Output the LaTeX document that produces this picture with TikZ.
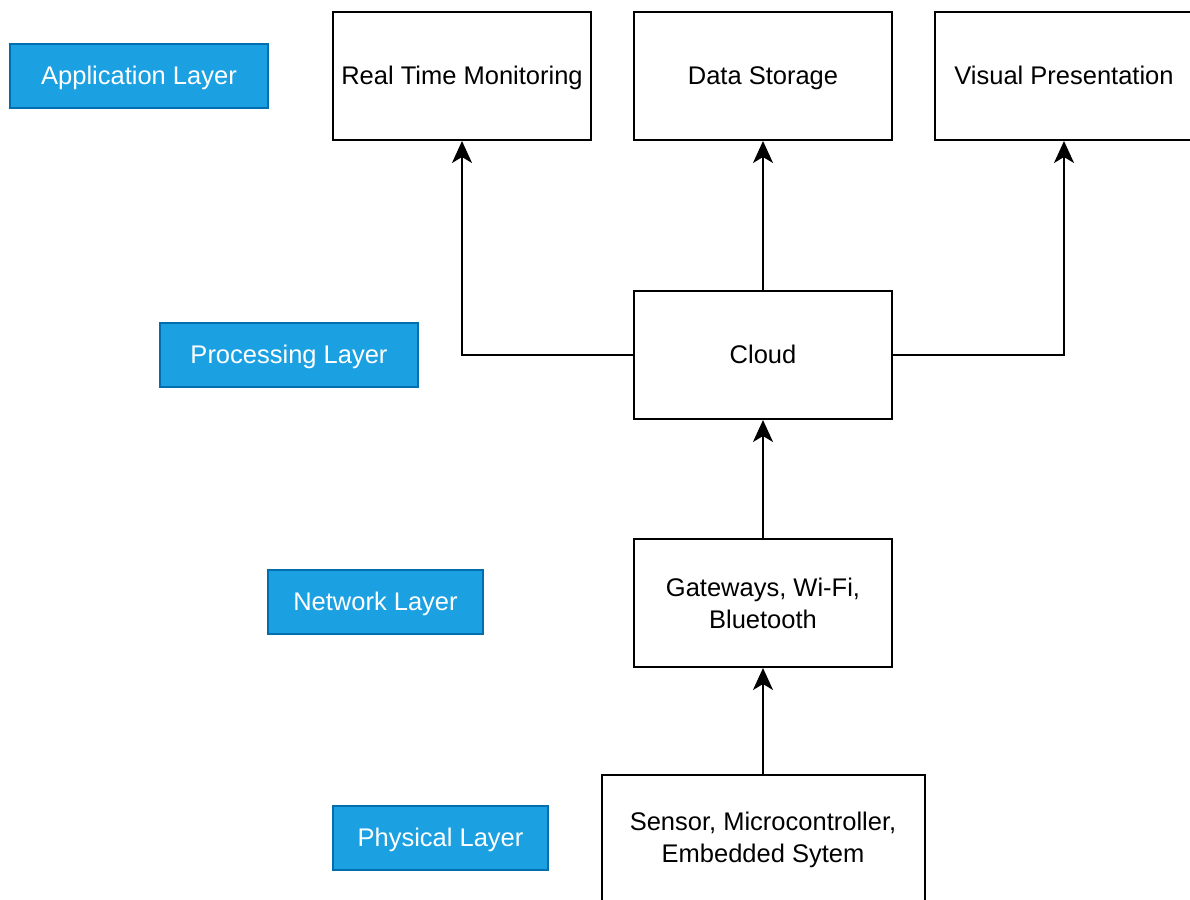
\documentclass[tikz,border=0pt]{standalone}
\usepackage{fontspec}
\setmainfont{Liberation Sans}
\usetikzlibrary{arrows.meta}
\definecolor{layerfill}{HTML}{1BA1E2}
\definecolor{layerdraw}{HTML}{006EAF}
\begin{document}
\begin{tikzpicture}[x=1pt,y=-1pt,
  layerbox/.style={draw=layerdraw,fill=layerfill,line width=1.5pt,text=white,
    minimum height=64pt,inner sep=0pt,text height=18.3pt,text depth=2pt,
    font=\fontsize{25.5}{32}\selectfont},
  compbox/.style={draw=black,fill=white,line width=2pt,minimum width=258pt,minimum height=128pt,
    inner sep=0pt,align=center,font=\fontsize{25.5}{32}\selectfont},
  oneline/.style={text height=18.3pt,text depth=2pt},
  conn/.style={line width=2pt,-{Stealth[length=22pt,width=20pt,inset=6pt]}}]
\useasboundingbox (0,0) rectangle (1190,899);
\clip (0,0) rectangle (1190,899);
\fill[white] (0,0) rectangle (1190,899);
% layer labels
\node[layerbox,minimum width=258pt] (app) at (139,76) {Application Layer};
\node[layerbox,minimum width=258pt] (proc) at (289,355) {Processing Layer};
\node[layerbox,minimum width=215pt] (net) at (375.5,602) {Network Layer};
\node[layerbox,minimum width=215pt] (phys) at (440.5,838) {Physical Layer};
% components
\node[compbox,oneline] (rtm) at (462,76) {Real Time Monitoring};
\node[compbox,oneline] (ds) at (763,76) {Data Storage};
\node[compbox,oneline] (vp) at (1064,76) {Visual Presentation};
\node[compbox,oneline] (cloud) at (763,355) {Cloud};
\node[compbox] (gw) at (763,603) {Gateways, Wi-Fi,\\Bluetooth};
\node[compbox,minimum width=323pt,minimum height=130pt,anchor=north] (sens) at (763,774) {Sensor, Microcontroller,\\Embedded Sytem};
% connectors
\draw[conn] (cloud.west) -| (rtm.south);
\draw[conn] (cloud.north) -- (ds.south);
\draw[conn] (cloud.east) -| (vp.south);
\draw[conn] (gw.north) -- (cloud.south);
\draw[conn] (sens.north) -- (gw.south);
\end{tikzpicture}
\end{document}
